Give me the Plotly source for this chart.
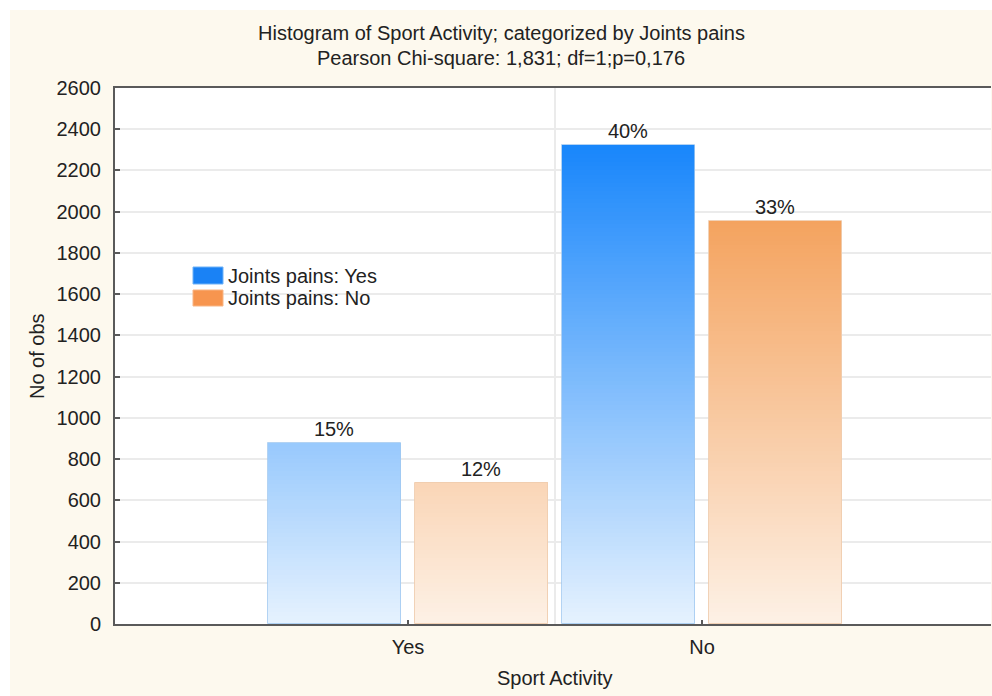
import plotly.graph_objects as go

# ---------------- data ----------------
categories = ["Yes", "No"]
series_names = ["Joints pains: Yes", "Joints pains: No"]
pains_yes = [880, 2323]
pains_no = [685, 1954]
pct_yes = ["15%", "40%"]
pct_no = ["12%", "33%"]
y_tick_values = list(range(0, 2601, 200))
title_line1 = "Histogram of Sport Activity; categorized by Joints pains"
title_line2 = "Pearson Chi-square: 1,831; df=1;p=0,176"
x_title = "Sport Activity"
y_title = "No of obs"

# ---------------- style ----------------
W, H = 992, 696
L, R, T, B = 115, 991, 88, 624
FONT = "Liberation Sans, Arial, sans-serif"
FS = 20
TXT = "#222222"
AX = "#5a5a5a"
GRID = "#ebebeb"
CREAM = "#fdf9ee"

blue_bottom, blue_top = (230, 242, 254), (24, 134, 251)
orange_bottom, orange_top = (253, 241, 230), (244, 163, 95)
blue_edge, orange_edge = "rgba(160,200,240,0.8)", "rgba(240,205,175,0.9)"
legend_blue, legend_orange = "#1a82f5", "#f7954f"

BAR_W = 0.452
offsets = [-0.25, 0.25]
STEP = 20


def px_x(p):
    return (p - L) / (R - L)


def px_y(p):
    return (B - p) / (B - T)


def lerp(c0, c1, t):
    t = max(0.0, min(1.0, t))
    return "rgb(%d,%d,%d)" % tuple(round(a + (b - a) * t) for a, b in zip(c0, c1))


def gradient_trace(values, off, c_bot, c_top):
    vmax = max(values)
    xs, ys, bases, cols = [], [], [], []
    for i, v in enumerate(values):
        start = 0
        while start < v:
            h = min(STEP, v - start)
            xs.append(i + off)
            ys.append(h + 0.6 if start + h < v else h)
            bases.append(start)
            cols.append(lerp(c_bot, c_top, (start + h / 2) / vmax))
            start += h
    return go.Bar(x=xs, y=ys, base=bases, width=BAR_W,
                  marker=dict(color=cols, line=dict(width=0)),
                  showlegend=False, hoverinfo="skip")


fig = go.Figure()
series = [(pains_yes, pct_yes, blue_bottom, blue_top, blue_edge, series_names[0]),
          (pains_no, pct_no, orange_bottom, orange_top, orange_edge, series_names[1])]
for k, (vals, pct, cb, ct, edge, name) in enumerate(series):
    fig.add_trace(gradient_trace(vals, offsets[k], cb, ct))
for k, (vals, pct, cb, ct, edge, name) in enumerate(series):
    fig.add_trace(go.Bar(
        x=[i + offsets[k] for i in range(len(categories))], y=vals, width=BAR_W,
        name=name, text=pct, textposition="outside", cliponaxis=False,
        textfont=dict(family=FONT, size=FS, color=TXT),
        marker=dict(color="rgba(0,0,0,0)", line=dict(color=edge, width=1)),
        showlegend=False, hovertemplate="%{y}<extra>" + name + "</extra>"))

shapes = [
    # white outer frame strips
    dict(type="rect", xref="paper", yref="paper", x0=px_x(-5), x1=px_x(10), y0=px_y(700), y1=px_y(-5),
         fillcolor="white", line=dict(width=0), layer="above"),
    dict(type="rect", xref="paper", yref="paper", x0=px_x(-5), x1=px_x(1000), y0=px_y(10), y1=px_y(-5),
         fillcolor="white", line=dict(width=0), layer="above"),
    # category separator gridline
    dict(type="line", xref="x", yref="paper", x0=0.5, x1=0.5, y0=0, y1=1,
         line=dict(color=GRID, width=2), layer="below"),
    # legend swatches
    dict(type="rect", xref="paper", yref="paper", x0=px_x(193), x1=px_x(223), y0=px_y(284), y1=px_y(267),
         fillcolor=legend_blue, line=dict(color="#6fb2f7", width=1)),
    dict(type="rect", xref="paper", yref="paper", x0=px_x(193), x1=px_x(223), y0=px_y(306), y1=px_y(290),
         fillcolor=legend_orange, line=dict(color="#f8b585", width=1)),
]

annotations = [
    dict(text=title_line1, x=px_x(501), y=px_y(33), xref="paper", yref="paper", showarrow=False,
         xanchor="center", yanchor="middle", font=dict(family=FONT, size=FS, color=TXT)),
    dict(text=title_line2, x=px_x(501), y=px_y(58), xref="paper", yref="paper", showarrow=False,
         xanchor="center", yanchor="middle", font=dict(family=FONT, size=FS, color=TXT)),
    dict(text=x_title, x=px_x(555), y=px_y(678), xref="paper", yref="paper", showarrow=False,
         xanchor="center", yanchor="middle", font=dict(family=FONT, size=FS, color=TXT)),
    dict(text=y_title, x=px_x(37), y=px_y(356), xref="paper", yref="paper", showarrow=False,
         textangle=-90, xanchor="center", yanchor="middle", font=dict(family=FONT, size=FS, color=TXT)),
    dict(text=series_names[0], x=px_x(226), y=px_y(276), xref="paper", yref="paper", showarrow=False,
         xanchor="left", yanchor="middle", font=dict(family=FONT, size=FS, color=TXT)),
    dict(text=series_names[1], x=px_x(226), y=px_y(298), xref="paper", yref="paper", showarrow=False,
         xanchor="left", yanchor="middle", font=dict(family=FONT, size=FS, color=TXT)),
]

x_lo = -(408 - L) / 294.0
x_hi = (R - 408) / 294.0

fig.update_layout(
    width=W, height=H,
    margin=dict(l=L, r=W - R, t=T, b=H - B, pad=0),
    paper_bgcolor=CREAM, plot_bgcolor="white",
    barmode="overlay", bargap=0,
    showlegend=False,
    font=dict(family=FONT, size=FS, color=TXT),
    shapes=shapes, annotations=annotations,
    xaxis=dict(range=[x_lo, x_hi], tickvals=list(range(len(categories))), ticktext=categories,
               ticks="inside", ticklen=4, tickwidth=2, tickcolor=AX,
               showline=True, linecolor=AX, linewidth=2, mirror=True,
               showgrid=False, zeroline=False, ticklabelstandoff=4,
               tickfont=dict(family=FONT, size=FS, color=TXT)),
    yaxis=dict(range=[0, 2600], tickvals=y_tick_values,
               ticks="inside", ticklen=5, tickwidth=2, tickcolor=AX,
               showline=True, linecolor=AX, linewidth=2,
               showgrid=True, gridcolor=GRID, gridwidth=1.5, zeroline=False,
               ticklabelstandoff=8,
               tickfont=dict(family=FONT, size=FS, color=TXT)),
    yaxis2=dict(range=[0, 2600], tickvals=y_tick_values, overlaying="y", side="right",
                ticks="inside", ticklen=4, tickwidth=2, tickcolor="#777",
                showticklabels=False, showgrid=False, showline=False, zeroline=False),
)

fig.write_html("out.html", config={"displayModeBar": False},
               post_script="document.body.style.margin='0px';document.body.style.overflow='hidden';")
